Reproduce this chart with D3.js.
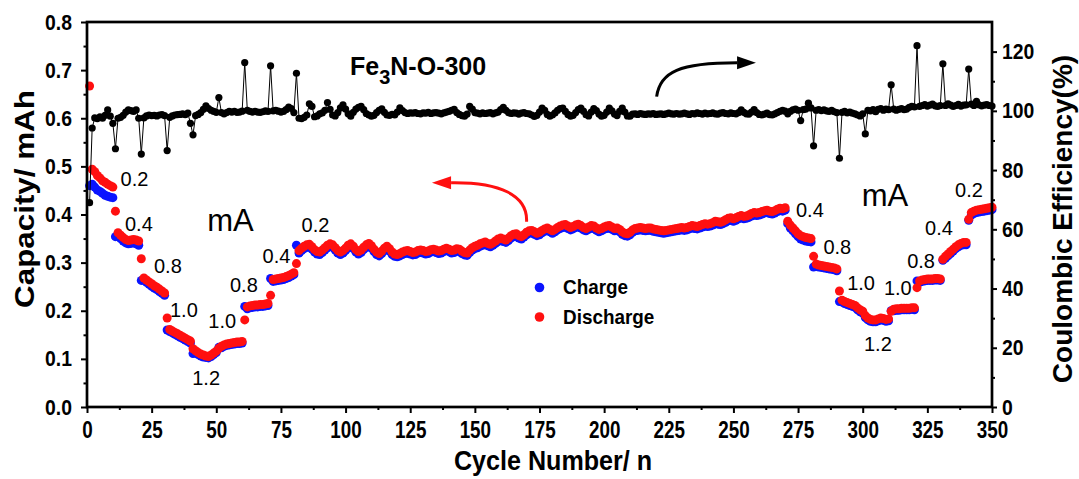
<!DOCTYPE html>
<html>
<head>
<meta charset="utf-8">
<script src="https://cdn.jsdelivr.net/npm/d3@7"></script>
<style>
  body { margin: 0; background: #fff; }
  svg { display: block; font-family: "Liberation Sans", Arial, Helvetica, sans-serif; }
</style>
</head>
<body>
<svg id="chart" width="1079" height="479"></svg>
<script>
// Discharge capacity (mAh), cycles 1-350, ten cycles per row
const discharge = [
  .667,.494,.489,.481,.476,.470,.467,.463,.460,.457,
  .407,.362,.357,.352,.348,.346,.347,.348,.347,.345,
  .308,.268,.264,.260,.256,.252,.249,.245,.241,.237,
  .185,.161,.158,.155,.152,.149,.146,.143,.140,.137,
  .121,.117,.113,.110,.108,.106,.105,.108,.112,.116,
  .122,.126,.129,.131,.132,.133,.134,.135,.135,.136,
  .181,.208,.210,.211,.212,.212,.213,.213,.214,.215,
  .232,.265,.266,.267,.268,.269,.271,.273,.276,.279,
  .298,.325,.330,.334,.337,.338,.333,.327,.323,.322,
  .326,.331,.336,.339,.337,.331,.325,.322,.325,.330,
  .336,.339,.334,.327,.323,.326,.332,.337,.340,.335,
  .328,.322,.319,.324,.330,.334,.329,.322,.318,.317,
  .319,.322,.324,.325,.323,.321,.322,.325,.326,.325,
  .323,.324,.327,.328,.326,.324,.325,.328,.330,.328,
  .325,.326,.329,.328,.324,.321,.320,.326,.331,.334,
  .336,.339,.341,.343,.340,.338,.341,.345,.349,.351,
  .349,.347,.351,.356,.359,.360,.356,.354,.358,.363,
  .366,.367,.364,.361,.363,.367,.370,.372,.369,.366,
  .369,.373,.376,.378,.379,.376,.373,.375,.378,.380,
  .377,.373,.371,.374,.377,.376,.372,.369,.371,.374,
  .376,.377,.374,.371,.372,.369,.364,.361,.360,.363,
  .368,.371,.372,.373,.372,.371,.372,.372,.370,.369,
  .368,.367,.366,.367,.368,.369,.370,.371,.372,.373,
  .372,.373,.375,.377,.376,.375,.377,.379,.381,.380,
  .381,.383,.386,.385,.384,.386,.389,.392,.393,.391,
  .393,.396,.398,.396,.397,.399,.402,.404,.403,.404,
  .406,.408,.409,.407,.406,.408,.411,.413,.412,.414,
  .386,.378,.372,.366,.360,.356,.354,.352,.351,.350,
  .313,.297,.295,.294,.293,.292,.291,.290,.289,.287,
  .241,.222,.219,.217,.215,.213,.211,.206,.202,.199,
  .190,.185,.182,.181,.181,.183,.185,.184,.182,.183,
  .199,.203,.204,.204,.205,.205,.205,.205,.206,.206,
  .248,.262,.264,.265,.266,.266,.266,.267,.267,.266,
  .307,.313,.318,.323,.328,.333,.337,.340,.342,.342,
  .390,.404,.407,.409,.410,.411,.412,.413,.414,.415
];

// Charge capacity (mAh), cycles 1-350
const charge = [
  .460,.463,.457,.451,.448,.444,.440,.438,.436,.435,
  .354,.355,.350,.345,.341,.339,.340,.341,.339,.336,
  .263,.263,.259,.255,.251,.247,.244,.240,.236,.232,
  .160,.157,.154,.151,.148,.145,.142,.139,.136,.133,
  .111,.112,.109,.106,.104,.103,.102,.105,.109,.113,
  .124,.123,.126,.128,.129,.130,.131,.132,.132,.133,
  .209,.204,.206,.207,.208,.208,.209,.209,.210,.211,
  .267,.261,.262,.263,.264,.265,.267,.269,.272,.275,
  .336,.320,.325,.329,.332,.333,.328,.322,.318,.317,
  .321,.326,.331,.334,.332,.326,.320,.317,.320,.325,
  .331,.334,.329,.322,.318,.321,.327,.332,.335,.330,
  .323,.317,.314,.319,.325,.329,.324,.317,.313,.312,
  .314,.317,.319,.320,.318,.316,.317,.320,.321,.320,
  .318,.319,.322,.323,.321,.319,.320,.323,.325,.323,
  .320,.321,.324,.323,.319,.316,.315,.321,.326,.329,
  .331,.334,.336,.338,.335,.333,.336,.340,.344,.346,
  .344,.342,.346,.351,.354,.355,.351,.349,.353,.358,
  .361,.362,.359,.356,.358,.362,.365,.367,.364,.361,
  .364,.368,.371,.373,.374,.371,.368,.370,.373,.375,
  .372,.368,.366,.369,.372,.371,.367,.364,.366,.369,
  .371,.372,.369,.366,.367,.364,.359,.356,.355,.358,
  .363,.366,.367,.368,.367,.366,.367,.367,.365,.364,
  .363,.362,.361,.362,.363,.364,.365,.366,.367,.368,
  .367,.368,.370,.372,.371,.370,.372,.374,.376,.375,
  .376,.378,.381,.380,.379,.381,.384,.387,.388,.386,
  .388,.391,.393,.391,.392,.394,.397,.399,.398,.399,
  .401,.403,.404,.402,.401,.403,.406,.408,.407,.409,
  .381,.372,.366,.360,.354,.349,.347,.345,.344,.343,
  .291,.293,.291,.290,.289,.288,.287,.286,.285,.283,
  .219,.218,.215,.213,.211,.209,.207,.202,.198,.195,
  .186,.181,.178,.177,.177,.179,.181,.180,.178,.179,
  .200,.200,.201,.201,.202,.202,.202,.202,.203,.202,
  .262,.259,.261,.262,.263,.263,.263,.264,.264,.263,
  .305,.309,.314,.319,.324,.329,.333,.336,.337,.337,
  .388,.399,.402,.404,.405,.406,.407,.408,.409,.410
];

// Coulombic efficiency (%), cycles 1-350
const efficiency = [
  69.0,94.2,97.6,97.4,98.0,97.5,98.5,100.3,98.2,95.8,
  87.2,97.5,97.8,98.5,99.6,100.3,100.1,99.8,100.3,97.5,
  85.4,97.6,98.3,98.6,98.4,98.5,98.3,98.6,98.7,98.4,
  86.6,97.8,98.3,98.6,98.7,98.8,99.0,98.7,99.2,95.8,
  91.9,98.4,98.8,99.4,100.5,101.7,100.8,100.2,99.8,99.5,
  104.5,99.4,99.0,99.4,99.8,99.6,99.8,99.5,99.6,99.9,
  116.3,100.2,99.8,99.6,99.8,99.6,99.5,99.7,100.0,99.8,
  115.2,100.0,100.2,99.9,99.6,99.8,100.4,101.3,100.8,99.4,
  112.7,97.5,97.4,97.8,98.6,102.4,101.5,98.0,98.3,99.0,
  99.3,100.2,102.8,100.5,98.6,98.3,99.4,101.0,102.0,100.6,
  99.0,98.2,99.5,100.6,101.2,101.5,100.4,99.1,98.6,98.2,
  98.5,99.4,100.2,100.7,99.5,98.6,98.5,98.8,98.6,99.6,
  101.0,100.1,99.4,99.1,99.3,99.2,99.4,99.1,99.0,99.3,
  99.2,99.5,99.1,99.3,99.4,99.2,99.0,99.3,99.6,99.8,
  100.2,100.5,99.4,98.8,98.4,98.2,98.9,101.5,100.6,99.4,
  99.2,99.0,99.3,99.1,99.2,99.4,99.0,99.3,99.6,100.4,
  101.2,100.2,99.4,99.1,99.3,99.2,98.9,99.2,99.4,99.1,
  99.0,98.6,98.1,98.5,99.6,100.9,100.2,98.8,98.2,98.6,
  99.3,100.2,100.8,100.9,99.8,98.8,98.2,98.5,99.4,100.4,
  100.9,99.9,98.7,98.3,99.6,100.8,100.1,98.9,98.2,98.5,
  99.6,100.9,100.0,98.9,98.4,99.8,100.9,99.6,98.3,98.2,
  98.9,99.0,98.8,99.1,98.9,98.8,99.0,98.9,99.1,98.8,
  98.9,99.0,98.8,99.0,99.2,99.0,98.9,99.1,98.9,99.0,
  99.2,99.0,98.8,99.1,99.0,99.3,99.1,98.9,99.2,99.0,
  99.1,99.3,99.0,98.9,99.2,99.4,99.1,99.0,99.3,99.1,
  99.0,99.4,100.3,99.5,99.0,98.9,99.6,100.4,99.4,98.8,
  98.6,98.9,99.2,98.7,98.6,99.0,99.4,99.8,100.2,99.9,
  99.0,99.8,100.3,100.6,100.2,96.7,100.4,100.6,102.6,101.0,
  88.2,100.2,100.4,100.1,100.3,100.0,99.8,100.2,99.7,99.4,
  84.0,99.5,99.8,99.3,99.6,99.2,99.0,98.6,98.3,99.0,
  92.2,100.2,100.0,100.4,99.7,100.5,100.8,100.2,100.6,100.4,
  108.8,100.6,100.2,100.5,100.8,100.4,100.6,101.2,101.5,101.3,
  122.0,101.5,101.8,102.1,101.6,101.9,102.3,101.7,101.5,101.8,
  115.9,101.8,102.4,101.9,101.5,101.8,102.2,101.6,101.9,102.0,
  114.1,102.3,101.8,103.2,102.0,101.7,101.9,102.1,101.8,101.6
];

const capacityTicks = [0, 0.1, 0.2, 0.3, 0.4, 0.5, 0.6, 0.7, 0.8];
const capacityMinor = [0.05, 0.15, 0.25, 0.35, 0.45, 0.55, 0.65, 0.75];
const efficiencyTicks = [0, 20, 40, 60, 80, 100, 120];
const efficiencyMinor = [10, 30, 50, 70, 90, 110];
const cycleTicks = [0, 25, 50, 75, 100, 125, 150, 175, 200, 225, 250, 275, 300, 325, 350];
const cycleMinor = d3.range(12.5, 350, 25);

// Current-rate annotations (mA), anchored at [cycle, capacity]
const rateLabels = [
  ["0.2", 13.0, 0.459], ["0.4", 14.7, 0.366], ["0.8", 25.9, 0.278],
  ["1.0", 32.1, 0.188], ["1.2", 40.7, 0.046], ["1.0", 46.9, 0.164],
  ["0.8", 55.3, 0.240], ["0.4", 67.9, 0.299], ["0.2", 83.0, 0.364],
  ["0.4", 274.2, 0.394], ["0.8", 284.8, 0.318], ["1.0", 294.0, 0.243],
  ["1.2", 300.5, 0.117], ["1.0", 308.2, 0.233], ["0.8", 317.2, 0.288],
  ["0.4", 324.1, 0.357], ["0.2", 335.7, 0.436]
];
const unitLabels = [["mA", 46.5, 0.366], ["mA", 299.6, 0.418]];

const svg = d3.select("#chart");
const x = d3.scaleLinear().domain([0, 350]).range([87, 992]);
const yCap = d3.scaleLinear().domain([0, 0.8]).range([407, 22]);
const yCE = d3.scaleLinear().domain([0, 130]).range([407, 22]);
const cycles = discharge.map((_, i) => i + 1);

// capacity markers: charge underneath, discharge on top
svg.append("g").selectAll("circle").data(cycles).join("circle")
  .attr("cx", c => x(c)).attr("cy", c => yCap(charge[c - 1]))
  .attr("r", 4.5).attr("fill", "#0a14ff");
svg.append("g").selectAll("circle").data(cycles).join("circle")
  .attr("cx", c => x(c)).attr("cy", c => yCap(discharge[c - 1]))
  .attr("r", 4.5).attr("fill", "#ff1010");

// coulombic efficiency: thin line plus markers
svg.append("path").datum(cycles)
  .attr("fill", "none").attr("stroke", "#000").attr("stroke-width", 1)
  .attr("d", d3.line().x(c => x(c)).y(c => yCE(efficiency[c - 1])));
svg.append("g").selectAll("circle").data(cycles).join("circle")
  .attr("cx", c => x(c)).attr("cy", c => yCE(efficiency[c - 1]))
  .attr("r", 3.6).attr("fill", "#000");

// frame
svg.append("rect").attr("x", x(0)).attr("y", yCap(0.8))
  .attr("width", x(350) - x(0)).attr("height", yCap(0) - yCap(0.8))
  .attr("fill", "none").attr("stroke", "#000").attr("stroke-width", 2.7);

function styleAxis(g) {
  g.select(".domain").remove();
  g.selectAll("line").attr("stroke", "#000").attr("stroke-width", 2);
}

// bottom axis
const gx = svg.append("g").attr("transform", `translate(0,${yCap(0)})`)
  .call(d3.axisBottom(x).tickValues(cycleTicks).tickSize(6).tickFormat(d3.format("d")))
  .call(styleAxis);
gx.selectAll("text").attr("font-size", 23).attr("font-weight", "bold").attr("fill", "#000")
  .attr("dy", null).attr("y", 31).attr("transform", "scale(0.82,1)");
svg.append("g").attr("transform", `translate(0,${yCap(0)})`)
  .call(d3.axisBottom(x).tickValues(cycleMinor).tickSize(3).tickFormat(""))
  .call(styleAxis);

// left axis
const sxY = 0.88;
const gl = svg.append("g").attr("transform", `translate(${x(0)},0)`)
  .call(d3.axisLeft(yCap).tickValues(capacityTicks).tickSize(6).tickFormat(d3.format(".1f")))
  .call(styleAxis);
gl.selectAll("text").attr("font-size", 22).attr("font-weight", "bold").attr("fill", "#000")
  .attr("x", -15 / sxY).attr("transform", `scale(${sxY},1)`);
svg.append("g").attr("transform", `translate(${x(0)},0)`)
  .call(d3.axisLeft(yCap).tickValues(capacityMinor).tickSize(3.5).tickFormat(""))
  .call(styleAxis);

// right axis
const gr = svg.append("g").attr("transform", `translate(${x(350)},0)`)
  .call(d3.axisRight(yCE).tickValues(efficiencyTicks).tickSize(5).tickFormat(d3.format("d")))
  .call(styleAxis);
gr.selectAll("text").attr("font-size", 22).attr("font-weight", "bold").attr("fill", "#000")
  .attr("x", 10 / sxY).attr("transform", `scale(${sxY},1)`);
svg.append("g").attr("transform", `translate(${x(350)},0)`)
  .call(d3.axisRight(yCE).tickValues(efficiencyMinor).tickSize(3).tickFormat(""))
  .call(styleAxis);

// axis titles
svg.append("text").attr("transform", "translate(553,470) scale(0.93,1)")
  .attr("text-anchor", "middle").attr("font-size", 27).attr("font-weight", "bold")
  .text("Cycle Number/ n");
svg.append("text").attr("transform", "translate(34,199) rotate(-90) scale(1.12,1)")
  .attr("text-anchor", "middle").attr("font-size", 28).attr("font-weight", "bold")
  .text("Capacity/ mAh");
svg.append("text").attr("transform", "translate(1072,219) rotate(-90)")
  .attr("text-anchor", "middle").attr("font-size", 28).attr("font-weight", "bold")
  .text("Coulombic Efficiency(%)");

// sample name
const title = svg.append("text").attr("x", 350).attr("y", 75)
  .attr("font-size", 25).attr("font-weight", "bold");
title.append("tspan").text("Fe");
title.append("tspan").attr("font-size", 20).attr("dy", 9).text("3");
title.append("tspan").attr("dy", -9).text("N-O-300");

// rate annotations
svg.append("g").selectAll("text").data(rateLabels).join("text")
  .attr("x", d => x(d[1])).attr("y", d => yCap(d[2]))
  .attr("font-size", 20).text(d => d[0]);
svg.append("g").selectAll("text").data(unitLabels).join("text")
  .attr("x", d => x(d[1])).attr("y", d => yCap(d[2]))
  .attr("font-size", 31).text(d => d[0]);

// legend
const legend = [["Charge", "#0a14ff", 287.5, 294], ["Discharge", "#ff1010", 317, 323.5]];
legend.forEach(([name, color, cy, ty]) => {
  svg.append("circle").attr("cx", 539.5).attr("cy", cy).attr("r", 4.8).attr("fill", color);
  svg.append("text").attr("transform", `translate(563,${ty}) scale(0.9,1)`)
    .attr("font-size", 21).attr("font-weight", "bold").text(name);
});

// axis-pointer arrows
function arrow(from, c1, c2, to, tip, ys, color) {
  const p = d3.path();
  p.moveTo(x(from[0]), ys(from[1]));
  p.bezierCurveTo(x(c1[0]), ys(c1[1]), x(c2[0]), ys(c2[1]), x(to[0]), ys(to[1]));
  svg.append("path").attr("d", p.toString()).attr("fill", "none")
    .attr("stroke", color).attr("stroke-width", 3);
  const bx = x(to[0]), by = ys(to[1]), tx = x(tip[0]), ty = ys(tip[1]);
  svg.append("path")
    .attr("d", `M${bx},${by - 6.5}L${tx},${ty}L${bx},${by + 6.5}Z`)
    .attr("fill", color);
}
arrow([220.3, 104.8], [221.6, 113.2], [229.3, 116.2], [251.4, 116.2], [258.7, 116.2], yCE, "#000");
arrow([170.0, 0.385], [170.5, 0.440], [159.7, 0.4675], [140.8, 0.466], [133.4, 0.466], yCap, "#ff1010");
</script>
</body>
</html>
